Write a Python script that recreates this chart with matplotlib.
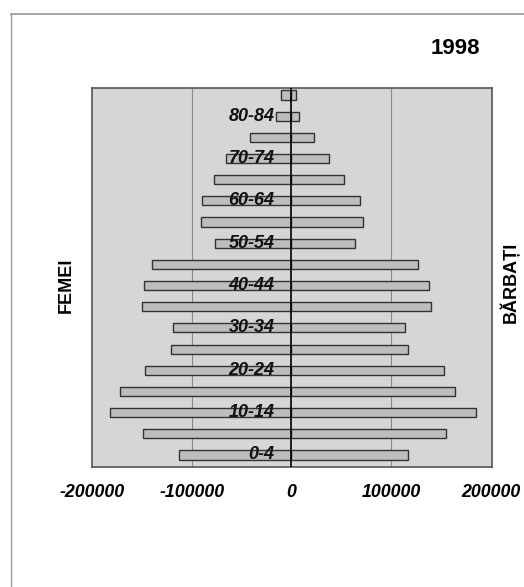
import matplotlib
matplotlib.use('Agg')
import matplotlib.pyplot as plt
from matplotlib.lines import Line2D

plt.rcParams['font.family'] = ['Liberation Sans', 'DejaVu Sans']

## age groups, bottom to top
ages = ['0-4', '5-9', '10-14', '15-19', '20-24', '25-29', '30-34', '35-39', '40-44',
        '45-49', '50-54', '55-59', '60-64', '65-69', '70-74', '75-79', '80-84', '85+']

## women (left) and men (right)
femei = [112500, 149000, 181500, 172000, 147000, 120500, 119000, 150000, 148000,
         140000, 77000, 91000, 90000, 78000, 66000, 42000, 15000, 10000]
barbati = [117000, 155000, 185000, 164000, 153000, 116500, 113500, 140000, 137500,
           126500, 64000, 72000, 68500, 53000, 38000, 23000, 8000, 5000]

xticks = [-200000, -100000, 0, 100000, 200000]
xticklabels = ['-200000', '-100000', '0', '100000', '200000']

fig = plt.figure(figsize=(5.24, 5.87), dpi=100)
ax = fig.add_axes([0.1756, 0.2044, 0.763, 0.6457])
ax.set_facecolor('#d6d6d6')

pos = list(range(len(ages)))
ax.barh(pos, [-v for v in femei], height=0.43, color='#bdbdbd', edgecolor='#333333', linewidth=1.0, zorder=3)
ax.barh(pos, barbati, height=0.43, color='#bdbdbd', edgecolor='#333333', linewidth=1.0, zorder=3)

ax.axvline(-100000, color='#8a8a8a', lw=0.8, zorder=1)
ax.axvline(100000, color='#8a8a8a', lw=0.8, zorder=1)
ax.axvline(0, color='black', lw=1.2, zorder=4)

## every second age group gets a label next to the axis
for i in range(0, len(ages), 2):
    ax.text(-17000, pos[i], ages[i], ha='right', va='center', fontsize=13,
            fontweight='bold', fontstyle='italic', color='#111111', zorder=5)

ax.set_xlim(-200000, 201000)
ax.set_ylim(-0.57, 17.33)
ax.set_yticks([])
ax.set_xticks(xticks)
ax.set_xticklabels(xticklabels, fontsize=12.8, fontweight='bold', fontstyle='italic')
ax.tick_params(axis='x', length=0, pad=12)
for s in ax.spines.values():
    s.set_color('#555555')
    s.set_linewidth(1.2)

fig.text(0.126, 0.5145, 'FEMEI', rotation=90, ha='center', va='center', fontsize=13, fontweight='bold')
fig.text(0.973, 0.519, 'BĂRBAȚI', rotation=90, ha='center', va='center', fontsize=13, fontweight='bold')
fig.text(0.869, 0.917, '1998', ha='center', va='center', fontsize=16, fontweight='bold')

## thin frame line at the top and on the left
fig.add_artist(Line2D([11/524, 1.0], [1-14/587, 1-14/587], color='#9a9a9a', lw=1.2))
fig.add_artist(Line2D([11/524, 11/524], [0.0, 1-14/587], color='#9a9a9a', lw=1.0))

fig.savefig('out.png', dpi=100)
